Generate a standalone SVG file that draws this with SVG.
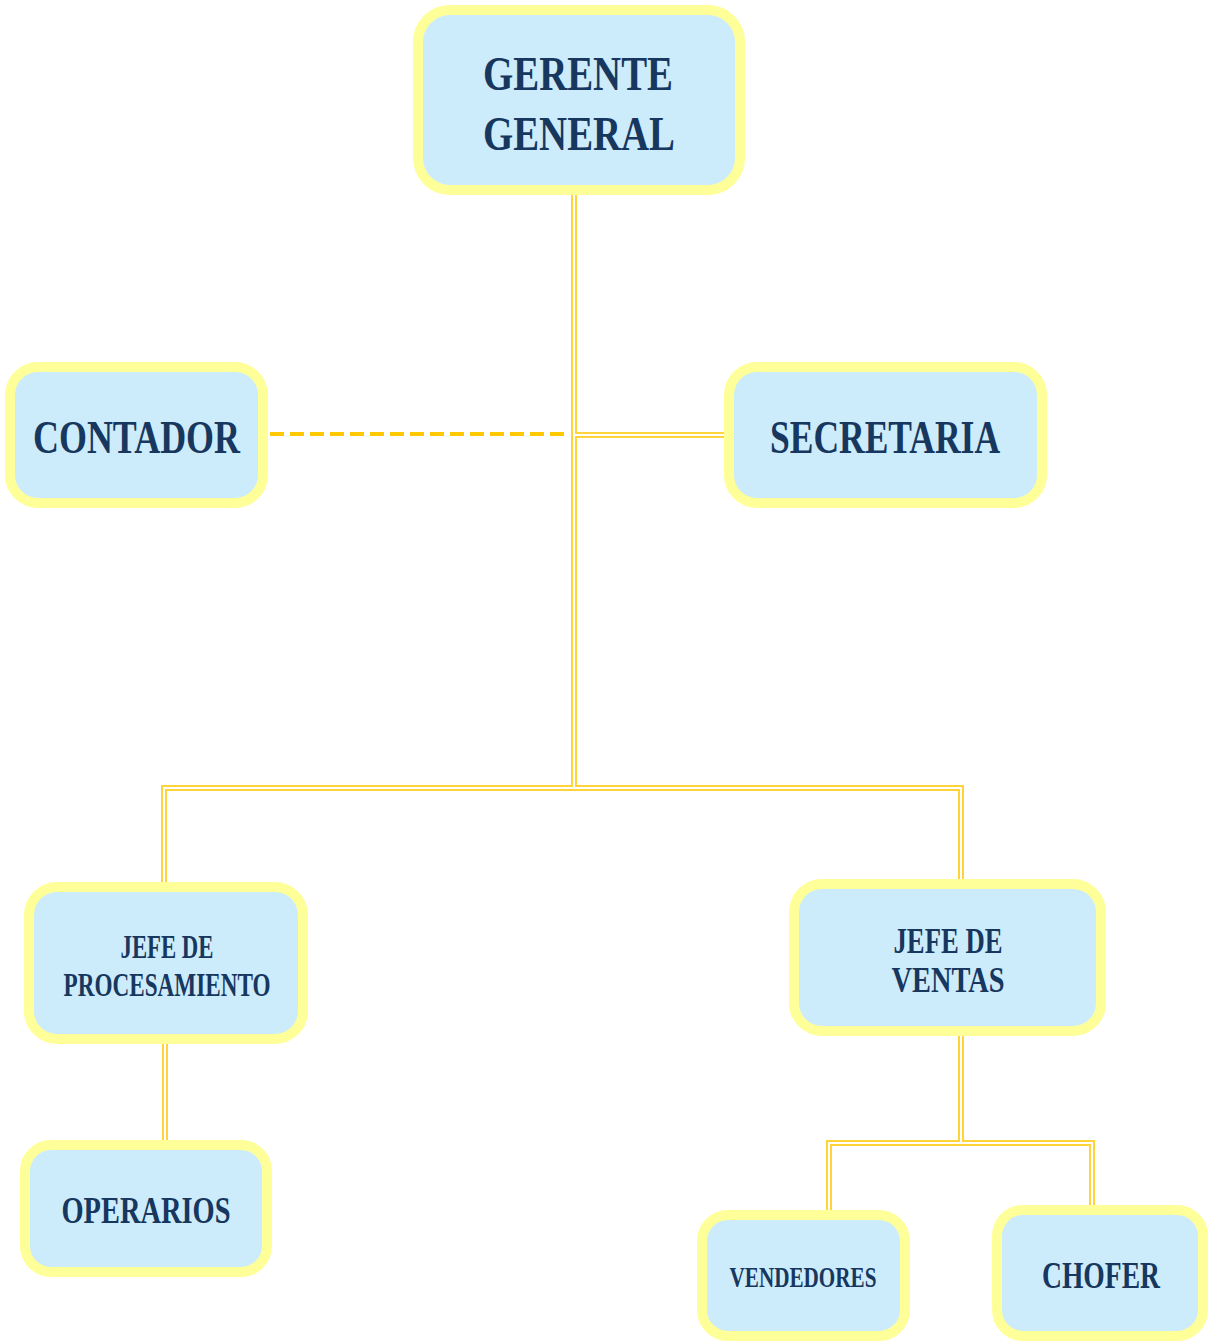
<svg xmlns="http://www.w3.org/2000/svg" width="1208" height="1341" viewBox="0 0 1208 1341">
<style>
.box{fill:#CCECFC;stroke:#FFFF99;stroke-width:10}
.t{font-family:"Liberation Serif",serif;font-weight:bold;fill:#17375E;text-anchor:middle}
.outer{fill:none;stroke:#FFD43B;stroke-width:6}
.inner{fill:none;stroke:#FFFFFF;stroke-width:2}
.dash{fill:none;stroke:#FFC800;stroke-width:4;stroke-dasharray:14 6}
</style>
<rect width="1208" height="1341" fill="#FFFFFF"/>
<g id="connectors">
<line class="dash" x1="270" y1="434" x2="566" y2="434"/>
<g class="outer">
<path d="M574 195 V788"/>
<path d="M574 435 H726"/>
<path d="M164 884 V788 H961 V881"/>
<path d="M165 1042 V1142"/>
<path d="M961 1034 V1143"/>
<path d="M829 1212 V1143 H1092 V1207"/>
</g>
<g class="inner">
<path d="M574 195 V788"/>
<path d="M574 435 H726"/>
<path d="M164 884 V788 H961 V881"/>
<path d="M165 1042 V1142"/>
<path d="M961 1034 V1143"/>
<path d="M829 1212 V1143 H1092 V1207"/>
</g>
</g>
<g id="gerente">
<rect class="box" x="418" y="10" width="322" height="180" rx="32"/>
<text class="t" x="578" y="90" font-size="48" textLength="190" lengthAdjust="spacingAndGlyphs">GERENTE</text>
<text class="t" x="579" y="150" font-size="48" textLength="192" lengthAdjust="spacingAndGlyphs">GENERAL</text>
</g>
<g id="contador">
<rect class="box" x="10" y="367" width="253" height="136" rx="28"/>
<text class="t" x="136.5" y="453" font-size="46" textLength="207" lengthAdjust="spacingAndGlyphs">CONTADOR</text>
</g>
<g id="secretaria">
<rect class="box" x="729" y="367" width="313" height="136" rx="28"/>
<text class="t" x="885" y="453" font-size="46" textLength="230" lengthAdjust="spacingAndGlyphs">SECRETARIA</text>
</g>
<g id="jefe-procesamiento">
<rect class="box" x="29" y="887" width="274" height="152" rx="28"/>
<text class="t" x="167" y="958" font-size="34" textLength="93" lengthAdjust="spacingAndGlyphs">JEFE DE</text>
<text class="t" x="167" y="996" font-size="34" textLength="207" lengthAdjust="spacingAndGlyphs">PROCESAMIENTO</text>
</g>
<g id="jefe-ventas">
<rect class="box" x="794" y="884" width="307" height="147" rx="28"/>
<text class="t" x="948" y="953" font-size="36" textLength="109" lengthAdjust="spacingAndGlyphs">JEFE DE</text>
<text class="t" x="948" y="992" font-size="36" textLength="113" lengthAdjust="spacingAndGlyphs">VENTAS</text>
</g>
<g id="operarios">
<rect class="box" x="25" y="1145" width="242" height="127" rx="26"/>
<text class="t" x="146" y="1223" font-size="38" textLength="169" lengthAdjust="spacingAndGlyphs">OPERARIOS</text>
</g>
<g id="vendedores">
<rect class="box" x="702" y="1215" width="203" height="121" rx="26"/>
<text class="t" x="803" y="1287" font-size="30" textLength="147" lengthAdjust="spacingAndGlyphs">VENDEDORES</text>
</g>
<g id="chofer">
<rect class="box" x="997" y="1210" width="206" height="126" rx="26"/>
<text class="t" x="1101" y="1288" font-size="38" textLength="118" lengthAdjust="spacingAndGlyphs">CHOFER</text>
</g>
</svg>
